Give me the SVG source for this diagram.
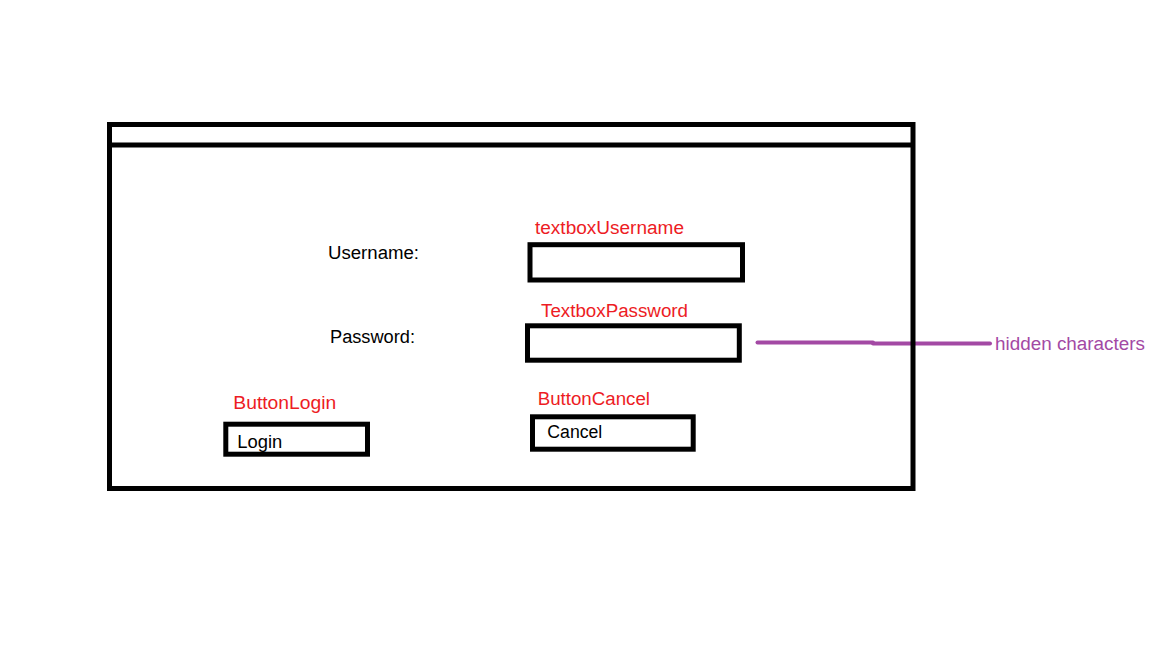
<svg xmlns="http://www.w3.org/2000/svg" width="1152" height="648" viewBox="0 0 1152 648">
<style>
.box{fill:none;stroke:#000;stroke-width:5}
.t{font-family:"Liberation Sans",Arial,sans-serif;font-size:18px;fill:#000}
.lbl{font-family:"Liberation Sans",Arial,sans-serif;font-size:18px;fill:#ED1C24}
.note{font-family:"Liberation Sans",Arial,sans-serif;font-size:18px;fill:#A349A4}
.conn{fill:none;stroke:#A349A4;stroke-width:4;stroke-linecap:round}
</style>
<rect width="1152" height="648" fill="#fff"/>
<g id="connectors">
<path class="conn" d="M757.5 342.5 L873 342.5"/>
<path class="conn" d="M873 343.5 L990 343.5"/>
</g>
<g id="window">
<rect class="box" x="109.5" y="124.5" width="803.5" height="364"/>
<line x1="109.5" y1="145" x2="913" y2="145" stroke="#000" stroke-width="5"/>
</g>
<g id="username-label">
<text class="t" x="328" y="258.5" textLength="91" lengthAdjust="spacingAndGlyphs">Username:</text>
</g>
<g id="password-label">
<text class="t" x="330" y="342.5" textLength="85" lengthAdjust="spacingAndGlyphs">Password:</text>
</g>
<g id="textboxUsername">
<text class="lbl" x="535" y="233.5" textLength="149" lengthAdjust="spacingAndGlyphs">textboxUsername</text>
<rect class="box" x="530" y="244.7" width="212.5" height="35.3"/>
</g>
<g id="TextboxPassword">
<text class="lbl" x="541" y="317" textLength="147" lengthAdjust="spacingAndGlyphs">TextboxPassword</text>
<rect class="box" x="527.5" y="325.8" width="211.8" height="34.4"/>
</g>
<g id="ButtonLogin">
<text class="lbl" x="233.3" y="409" textLength="103" lengthAdjust="spacingAndGlyphs">ButtonLogin</text>
<rect class="box" x="225.8" y="424.2" width="141.7" height="30"/>
<text class="t" x="237.3" y="447.5" textLength="45" lengthAdjust="spacingAndGlyphs">Login</text>
</g>
<g id="ButtonCancel">
<text class="lbl" x="537.7" y="405" textLength="112.3" lengthAdjust="spacingAndGlyphs">ButtonCancel</text>
<rect class="box" x="532.5" y="416.8" width="160.7" height="32.4"/>
<text class="t" x="547.3" y="437.5" textLength="55" lengthAdjust="spacingAndGlyphs">Cancel</text>
</g>
<g id="hidden-characters">
<text class="note" x="995" y="349.5" textLength="150" lengthAdjust="spacingAndGlyphs">hidden characters</text>
</g>
</svg>
